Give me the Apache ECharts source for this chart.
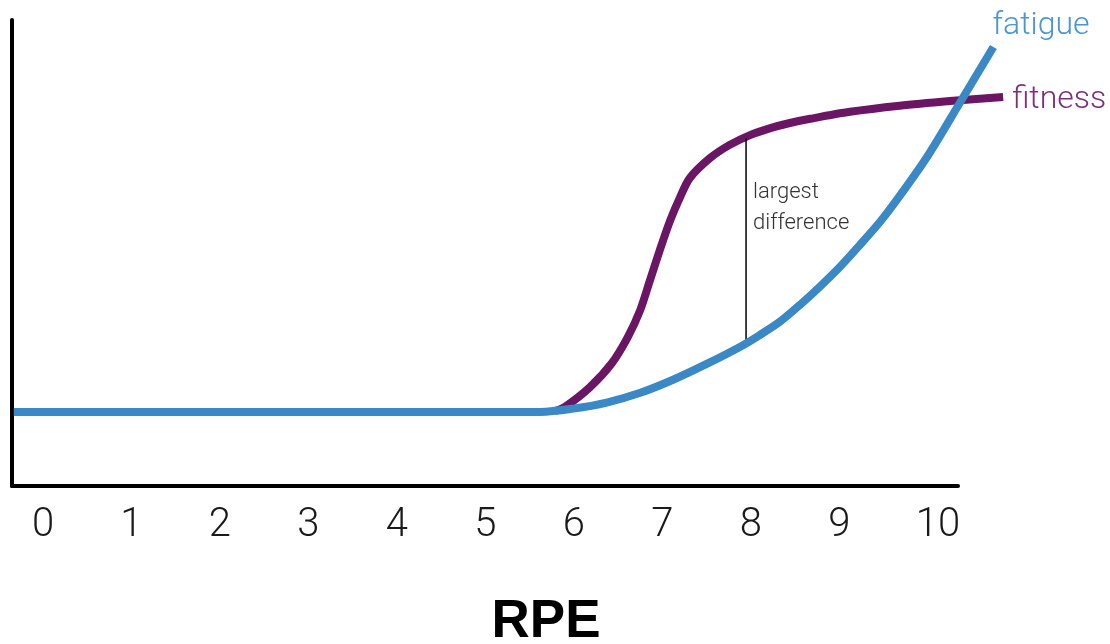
<!DOCTYPE html>
<html>
<head>
<meta charset="utf-8">
<script src="https://cdn.jsdelivr.net/npm/echarts@6/dist/echarts.min.js"></script>
<style>html,body{margin:0;padding:0;background:#fff}#c{width:1110px;height:644px}</style>
</head>
<body>
<div id="c"></div>
<script>
const xTicks = [0, 1, 2, 3, 4, 5, 6, 7, 8, 9, 10];
const fatigueX = [-0.33, 5.62, 5.99, 6.37, 6.75, 7.12, 7.50, 7.88, 8.10, 8.33, 8.55, 8.78, 9.01, 9.23, 9.46, 9.63, 9.99, 10.36, 10.74];
const fatigueY = [15.9, 15.9, 16.6, 17.9, 20.0, 22.8, 26.2, 29.9, 32.4, 35.3, 38.8, 42.8, 47.1, 51.7, 56.7, 60.9, 70.6, 82.2, 94.2];
const fitnessX = [5.79, 5.90, 6.18, 6.43, 6.61, 6.75, 6.86, 6.97, 7.09, 7.20, 7.31, 7.54, 7.76, 7.99, 8.22, 8.44, 8.67, 9.12, 9.68, 10.25, 10.85];
const fitnessY = [16.1, 17.0, 21.2, 26.4, 32.0, 37.8, 44.2, 50.6, 57.1, 62.0, 66.1, 70.4, 73.2, 75.3, 76.8, 77.9, 78.8, 80.3, 81.6, 82.6, 83.5];
const diffX = [7.945, 7.945];
const diffY = [30.5, 74.6];
const seriesNames = ['fitness', 'fatigue'];
const annotation = 'largest\ndifference';
const axisTitle = 'RPE';

const zip = (a, b) => a.map((v, i) => [v, b[i]]);
const lightFont = 'Roboto, "Open Sans", Lato, sans-serif';
// shared horizontal scale: 946px for 10.69 units
const pxPerUnit = 946 / 10.69;
const plotMax = -0.35 + 1038 / pxPerUnit;

const chart = echarts.init(document.getElementById('c'), null, {renderer: 'canvas'});
chart.setOption({
  animation: false,
  grid: [
    {left: 12, right: 60, top: 20, bottom: 158},
    {left: 12, right: 152, top: 20, bottom: 158}
  ],
  xAxis: [
    {gridIndex: 0, type: 'value', min: -0.35, max: plotMax, show: false},
    {
      gridIndex: 1, type: 'value', min: -0.35, max: 10.34,
      axisLine: {show: true, onZero: false, lineStyle: {color: '#000', width: 4}},
      axisTick: {show: false},
      splitLine: {show: false},
      axisLabel: {
        customValues: xTicks,
        margin: 20,
        fontSize: 40, fontWeight: 300, fontFamily: lightFont, color: '#1a1a1a',
        formatter: v => v === 10 ? '{s|10}' : String(v),
        rich: {s: {fontSize: 40, fontWeight: 300, fontFamily: lightFont, color: '#1a1a1a', padding: [0, 0, 0, 20]}}
      }
    }
  ],
  yAxis: [
    {gridIndex: 0, type: 'value', min: 0, max: 100, show: false},
    {
      gridIndex: 1, type: 'value', min: 0, max: 100,
      axisLine: {show: true, onZero: false, lineStyle: {color: '#000', width: 4}},
      axisTick: {show: false}, axisLabel: {show: false}, splitLine: {show: false}
    }
  ],
  series: [
    {
      name: seriesNames[0], type: 'line', xAxisIndex: 0, yAxisIndex: 0, smooth: 0.3, clip: false, showSymbol: false, symbol: 'none',
      data: zip(fitnessX, fitnessY),
      lineStyle: {color: '#6b1565', width: 8},
      endLabel: {show: true, formatter: seriesNames[0], distance: 6, offset: [3, 3], fontSize: 32, fontWeight: 300, fontFamily: lightFont, color: '#7d2f7a'}
    },
    {
      name: 'diff', type: 'line', xAxisIndex: 0, yAxisIndex: 0, clip: false, showSymbol: false, symbol: 'none',
      data: zip(diffX, diffY),
      lineStyle: {color: '#000', width: 1.5}
    },
    {
      name: seriesNames[1], type: 'line', xAxisIndex: 0, yAxisIndex: 0, smooth: 0.3, clip: false, showSymbol: false, symbol: 'none',
      data: zip(fatigueX, fatigueY),
      lineStyle: {color: '#3a88c6', width: 8},
      endLabel: {show: true, formatter: seriesNames[1], distance: 0, offset: [-1, -21], fontSize: 32, fontWeight: 300, fontFamily: lightFont, color: '#4a95d2'}
    }
  ],
  graphic: [
    {type: 'text', left: 753, top: 177, style: {text: annotation, fontSize: 22, lineHeight: 31, fontWeight: 300, fontFamily: lightFont, fill: '#333'}},
    {type: 'text', x: 546, y: 622, style: {text: axisTitle, fontSize: 53, fontWeight: 'bold', fontFamily: '"Liberation Sans", Arial, sans-serif', fill: '#000', align: 'center', verticalAlign: 'middle'}}
  ]
});
</script>
</body>
</html>
